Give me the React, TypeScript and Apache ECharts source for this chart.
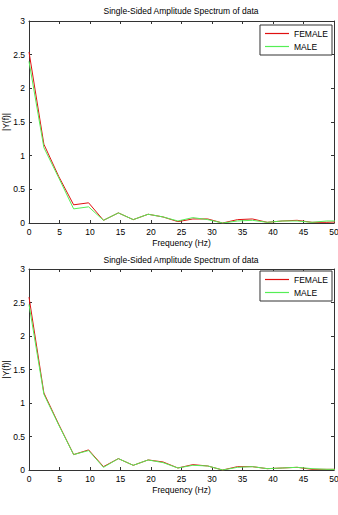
import React, { useEffect, useRef } from "react";
import * as echarts from "echarts";

// FFT bin centres (Hz)
const freqHz = [0, 2.44, 4.88, 7.32, 9.77, 12.21, 14.65, 17.09, 19.53, 21.97, 24.41, 26.86, 29.3, 31.74, 34.18, 36.62, 39.06, 41.5, 43.95, 46.39, 48.83, 51.27];

// Upper panel amplitudes
const femaleA = [2.54, 1.17, 0.69, 0.27, 0.3, 0.04, 0.15, 0.05, 0.13, 0.09, 0.02, 0.06, 0.06, 0.0, 0.05, 0.06, 0.01, 0.03, 0.04, 0.01, 0.01, 0.02];
const maleA = [2.4, 1.12, 0.67, 0.21, 0.24, 0.04, 0.15, 0.05, 0.13, 0.09, 0.03, 0.08, 0.05, 0.0, 0.03, 0.04, 0.01, 0.03, 0.03, 0.01, 0.03, 0.03];

// Lower panel amplitudes
const femaleB = [2.58, 1.15, 0.68, 0.23, 0.3, 0.05, 0.17, 0.07, 0.15, 0.12, 0.03, 0.08, 0.06, 0.0, 0.05, 0.05, 0.02, 0.03, 0.04, 0.01, 0.01, 0.01];
const maleB = [2.47, 1.13, 0.67, 0.23, 0.29, 0.04, 0.17, 0.07, 0.15, 0.11, 0.03, 0.07, 0.06, 0.0, 0.04, 0.05, 0.02, 0.03, 0.04, 0.02, 0.01, 0.01];

const panelTitle = "Single-Sided Amplitude Spectrum of data";
const xName = "Frequency (Hz)";
const yName = "|Y(f)|";
const seriesNames = ["FEMALE", "MALE"];

const FONT = "'Liberation Sans', Arial, sans-serif";
const RED = "#e01010";
const GREEN = "#55ee55";
const AXIS = "#333333";
const seriesColors = [RED, GREEN];

const pair = (xs: number[], ys: number[]) => xs.map((x, i) => [x, ys[i]]);

export default function App() {
  const ref = useRef<HTMLDivElement>(null);

  useEffect(() => {
    if (!ref.current) return;
    const chart = echarts.init(ref.current, null, { renderer: "svg" });

    const grids = [
      { left: 29, top: 21, width: 305, height: 202, outerBoundsMode: "none", containLabel: false },
      { left: 29, top: 269, width: 305, height: 201, outerBoundsMode: "none", containLabel: false },
    ];

    const lineStyleAxis = { color: AXIS, width: 1 };
    const label = { color: "#000", fontSize: 8.5, fontFamily: FONT };

    const xAxis: any[] = [];
    const yAxis: any[] = [];
    grids.forEach((_, g) => {
      xAxis.push({
        type: "value", gridIndex: g, min: 0, max: 50, interval: 5, position: "bottom",
        name: xName, nameLocation: "middle", nameGap: 15, nameMoveOverlap: false,
        nameTextStyle: { color: "#000", fontSize: 8.5, fontFamily: FONT },
        axisLine: { show: true, onZero: false, lineStyle: lineStyleAxis },
        axisTick: { show: true, inside: true, length: 3, lineStyle: lineStyleAxis },
        axisLabel: { ...label, margin: 4 },
        splitLine: { show: false },
      });
      xAxis.push({
        type: "value", gridIndex: g, min: 0, max: 50, interval: 5, position: "top",
        axisLine: { show: true, onZero: false, lineStyle: lineStyleAxis },
        axisTick: { show: true, inside: true, length: 3, lineStyle: lineStyleAxis },
        axisLabel: { show: false },
        splitLine: { show: false },
      });
      yAxis.push({
        type: "value", gridIndex: g, min: 0, max: 3, interval: 0.5, position: "left",
        name: yName, nameLocation: "middle", nameGap: 19, nameMoveOverlap: false,
        nameTextStyle: { color: "#000", fontSize: 8.5, fontFamily: FONT },
        axisLine: { show: true, onZero: false, lineStyle: lineStyleAxis },
        axisTick: { show: true, inside: true, length: 3, lineStyle: lineStyleAxis },
        axisLabel: { ...label, margin: 4 },
        splitLine: { show: false },
      });
      yAxis.push({
        type: "value", gridIndex: g, min: 0, max: 3, interval: 0.5, position: "right",
        axisLine: { show: true, onZero: false, lineStyle: lineStyleAxis },
        axisTick: { show: true, inside: true, length: 3, lineStyle: lineStyleAxis },
        axisLabel: { show: false },
        splitLine: { show: false },
      });
    });

    const mk = (name: string, data: number[][], color: string, g: number) => ({
      type: "line", name, data, xAxisIndex: g * 2, yAxisIndex: g * 2,
      symbol: "none", lineStyle: { color, width: 1 }, itemStyle: { color },
      clip: true,
    });

    const legend = (top: number) => ({
      show: true, orient: "vertical", right: 6, top,
      data: seriesNames.map((name, i) => ({
        name,
        icon: "rect",
        itemStyle: { color: seriesColors[i], borderWidth: 0 },
      })),
      borderColor: AXIS, borderWidth: 1, backgroundColor: "#fff",
      padding: [3, 4, 3, 5], itemGap: 2, itemWidth: 24, itemHeight: 1.2,
      textStyle: { color: "#000", fontSize: 8.5, fontFamily: FONT, lineHeight: 11 },
      selectedMode: false,
    });

    const titleStyle = { color: "#000", fontSize: 8.5, fontWeight: "normal", fontFamily: FONT };

    chart.setOption({
      animation: false,
      backgroundColor: "#fff",
      title: [
        { text: panelTitle, left: 181, top: 6, padding: 0, textAlign: "center", textStyle: titleStyle },
        { text: panelTitle, left: 181, top: 255, padding: 0, textAlign: "center", textStyle: titleStyle },
      ],
      legend: [legend(25), legend(271)],
      grid: grids,
      xAxis,
      yAxis,
      series: [
        mk("FEMALE", pair(freqHz, femaleA), RED, 0),
        mk("MALE", pair(freqHz, maleA), GREEN, 0),
        mk("FEMALE", pair(freqHz, femaleB), RED, 1),
        mk("MALE", pair(freqHz, maleB), GREEN, 1),
      ],
    });

    return () => chart.dispose();
  }, []);

  return (
    <div
      ref={ref}
      style={{ position: "fixed", left: 0, top: 0, width: 338, height: 515, background: "#fff" }}
    />
  );
}
